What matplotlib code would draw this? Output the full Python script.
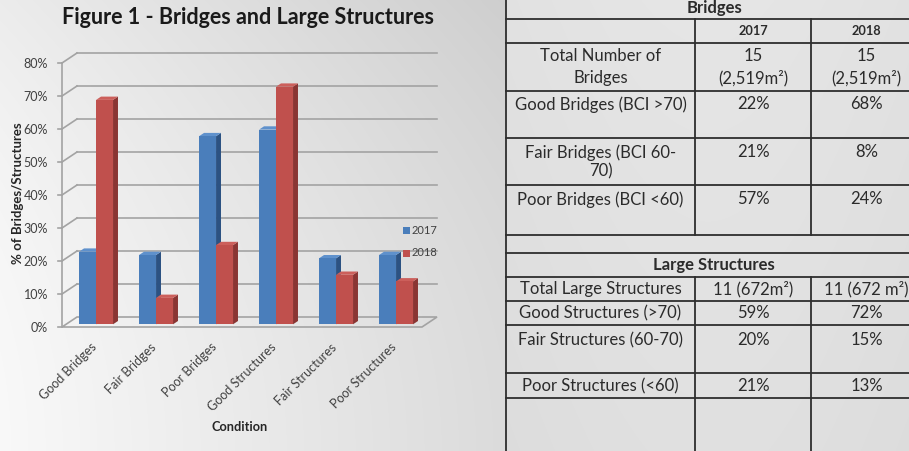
import matplotlib
matplotlib.use("Agg")
import matplotlib.pyplot as plt
import numpy as np
from matplotlib.patches import Polygon, Rectangle
from matplotlib.transforms import IdentityTransform, offset_copy

plt.rcParams["font.family"] = ["Lato", "DejaVu Sans"]

# ---------------- data ----------------
categories = ["Good Bridges", "Fair Bridges", "Poor Bridges",
              "Good Structures", "Fair Structures", "Poor Structures"]
years = ["2017", "2018"]
pct_2017 = [22, 21, 57, 59, 20, 21]
pct_2018 = [68, 8, 24, 72, 15, 13]
y_ticks = [0, 10, 20, 30, 40, 50, 60, 70, 80]

bridge_count = ["15", "15"]
bridge_area = ["(2,519m²)", "(2,519m²)"]
structure_totals = ["11 (672m²)", "11 (672 m²)"]
bridge_row_labels = ["Good Bridges (BCI >70)", "Fair Bridges (BCI 60-\n70)",
                     "Poor Bridges (BCI <60)"]
structure_row_labels = ["Good Structures (>70)", "Fair Structures (60-70)",
                        "Poor Structures (<60)"]

series = [pct_2017, pct_2018]
front_colors = ["#4a7ebb", "#c0504d"]
side_colors = ["#2c5282", "#8a3533"]
top_colors = ["#5f91cc", "#cc5f5b"]

W, H = 909, 451
fig = plt.figure(figsize=(W / 100, H / 100), dpi=100)

# ---------------- background ----------------
bg = fig.add_axes([0, 0, 1, 1], zorder=-2)
bg.set_axis_off()
xx, yy = np.meshgrid(np.arange(W), np.arange(H))
chart_v = 0.975 - 0.115 * (xx / 505.0) - 0.05 * (1 - yy / H) ** 2
table_v = 0.885 - 0.02 * (yy / H) + 0.015 * np.sin(np.pi * (xx - 506) / 403.0)
val = np.where(xx < 506, chart_v, table_v)
img = np.dstack([val, val, val])
bg.imshow(img, extent=(0, W, H, 0), aspect="auto", interpolation="bilinear")
bg.set_xlim(0, W)
bg.set_ylim(H, 0)

# ---------------- 3-D column chart ----------------
ax = fig.add_axes([62 / W, (H - 327) / H, 360 / W, 264 / H])
ax.set_xlim(-0.5, len(categories) - 0.5)
ax.set_ylim(0, 80)
ax.set_axis_off()

DX, DY = 15.0, 10.0  # depth of the floor in screen dots


def proj(x, y, z):
    p = ax.transData.transform((x, y))
    return (p[0] + z * DX, p[1] + z * DY)


def poly(pts, color, z, ec="none", lw=0):
    ax.add_patch(Polygon(pts, closed=True, facecolor=color, edgecolor=ec,
                         linewidth=lw, transform=IdentityTransform(),
                         clip_on=False, zorder=z))


def seg(p, q, color="#a6a6a6", lw=1.2, z=1):
    ax.add_line(plt.Line2D([p[0], q[0]], [p[1], q[1]], color=color, lw=lw,
                           transform=IdentityTransform(), clip_on=False,
                           zorder=z))


x_lo, x_hi = -0.5, len(categories) - 0.5
grid_c = "#a3a3a3"
for t in y_ticks:
    if t > 0:
        seg(proj(x_lo, t, 0), proj(x_lo, t, 1), grid_c)
        seg(proj(x_lo, t, 1), proj(x_hi, t, 1), grid_c)
    # tick mark on the front axis
    p = proj(x_lo, t, 0)
    seg((p[0] - 4, p[1]), p, grid_c)
# floor
floor = [proj(x_lo, 0, 0), proj(x_hi, 0, 0), proj(x_hi, 0, 1), proj(x_lo, 0, 1)]
ax.add_patch(Polygon(floor, closed=True, facecolor="none", edgecolor=grid_c,
                     linewidth=1.2, transform=IdentityTransform(),
                     clip_on=False, zorder=1))
seg(proj(x_lo, 0, 0), proj(x_lo, 80, 0), grid_c)

bw = 0.283
zf, zb = 0.27, 0.60
for i in range(len(categories)):
    for s, vals in enumerate(series):
        h = vals[i]
        x0 = i - bw + s * bw
        x1 = x0 + bw
        zo = 3 + s
        poly([proj(x1, 0, zf), proj(x1, 0, zb), proj(x1, h, zb), proj(x1, h, zf)],
             side_colors[s], zo)
        poly([proj(x0, h, zf), proj(x1, h, zf), proj(x1, h, zb), proj(x0, h, zb)],
             top_colors[s], zo)
        poly([proj(x0, 0, zf), proj(x1, 0, zf), proj(x1, h, zf), proj(x0, h, zf)],
             front_colors[s], zo)

tick_tr = offset_copy(ax.transData, fig=fig, x=-14, y=-1, units="dots")
for t in y_ticks:
    ax.text(x_lo, t, f"{t}%", transform=tick_tr, ha="right", va="center",
            fontsize=9, color="#404040", clip_on=False)

cat_tr = offset_copy(ax.transData, fig=fig, x=-2, y=-14, units="dots")
for i, c in enumerate(categories):
    ax.text(i, 0, c, transform=cat_tr, ha="right", va="top", rotation=45,
            rotation_mode="anchor", fontsize=9, color="#404040",
            clip_on=False)

# ---------------- overlay in pixel coordinates ----------------
ov = fig.add_axes([0, 0, 1, 1], zorder=2)
ov.set_xlim(0, W)
ov.set_ylim(H, 0)
ov.set_axis_off()
ov.patch.set_visible(False)

ov.text(248, 18, "Figure 1 - Bridges and Large Structures", ha="center",
        va="center", fontsize=15.5, fontweight="bold", color="#1a1a1a")
ov.text(18, 193, "% of Bridges/Structures", ha="center", va="center",
        rotation=90, fontsize=9.5, fontweight="bold", color="#262626")
ov.text(240, 427, "Condition", ha="center", va="center", fontsize=9.2,
        fontweight="bold", color="#262626")

for s, yr in enumerate(years):
    yc = 230 + 23 * s
    ov.add_patch(Rectangle((403, yc - 3.5), 7, 7, facecolor=front_colors[s],
                           edgecolor="none"))
    ov.text(411.5, yc, yr, ha="left", va="center", fontsize=8,
            color="#404040")

# ---------------- table ----------------
line_c = "#2e2e2e"
tlw = 1.3
c0, c1, c2, c3 = 506, 695, 811, 922
cx = [(c0 + c1) / 2, (c1 + c2) / 2, (c2 + c3) / 2]
ov.plot([c0, c0], [0, H], color=line_c, lw=tlw)
for yl in [19, 43, 91, 138, 185, 234.5, 253, 277, 301, 325, 373, 398]:
    ov.plot([c0, W], [yl, yl], color=line_c, lw=tlw)
for xc in (c1, c2):
    ov.plot([xc, xc], [19, 234.5], color=line_c, lw=tlw)
    ov.plot([xc, xc], [277, H], color=line_c, lw=tlw)

tc = "#2b2b2b"
fs = 12
ov.text((c0 + c3) / 2, 8.5, "Bridges", ha="center", va="center", fontsize=12,
        fontweight="bold", color=tc)
for k, yr in enumerate(years):
    ov.text(cx[k + 1], 31, yr, ha="center", va="center", fontsize=9.2,
            fontweight="bold", color=tc)

ov.text(cx[0], 56, "Total Number of", ha="center", va="center", fontsize=fs, color=tc)
ov.text(cx[0], 78, "Bridges", ha="center", va="center", fontsize=fs, color=tc)
for k in range(2):
    ov.text(cx[k + 1], 56, bridge_count[k], ha="center", va="center", fontsize=fs, color=tc)
    ov.text(cx[k + 1], 78, bridge_area[k], ha="center", va="center", fontsize=fs, color=tc)

bridge_y = [104, 152, 199]
for r, yv in enumerate(bridge_y):
    ov.text(cx[0], yv - 8, bridge_row_labels[r], ha="center", va="top",
            fontsize=fs, color=tc, linespacing=1.2)
    ov.text(cx[1], yv, f"{pct_2017[r]}%", ha="center", va="center", fontsize=fs, color=tc)
    ov.text(cx[2], yv, f"{pct_2018[r]}%", ha="center", va="center", fontsize=fs, color=tc)

ov.text((c0 + c3) / 2, 265, "Large Structures", ha="center", va="center",
        fontsize=fs, fontweight="bold", color=tc)
ov.text(cx[0], 289, "Total Large Structures", ha="center", va="center", fontsize=fs, color=tc)
for k in range(2):
    ov.text(cx[k + 1], 289, structure_totals[k], ha="center", va="center", fontsize=fs, color=tc)

struct_y = [313, 340, 386]
for r, yv in enumerate(struct_y):
    ov.text(cx[0], yv, structure_row_labels[r], ha="center", va="center", fontsize=fs, color=tc)
    ov.text(cx[1], yv, f"{pct_2017[r + 3]}%", ha="center", va="center", fontsize=fs, color=tc)
    ov.text(cx[2], yv, f"{pct_2018[r + 3]}%", ha="center", va="center", fontsize=fs, color=tc)

fig.savefig("out.png", dpi=100)
